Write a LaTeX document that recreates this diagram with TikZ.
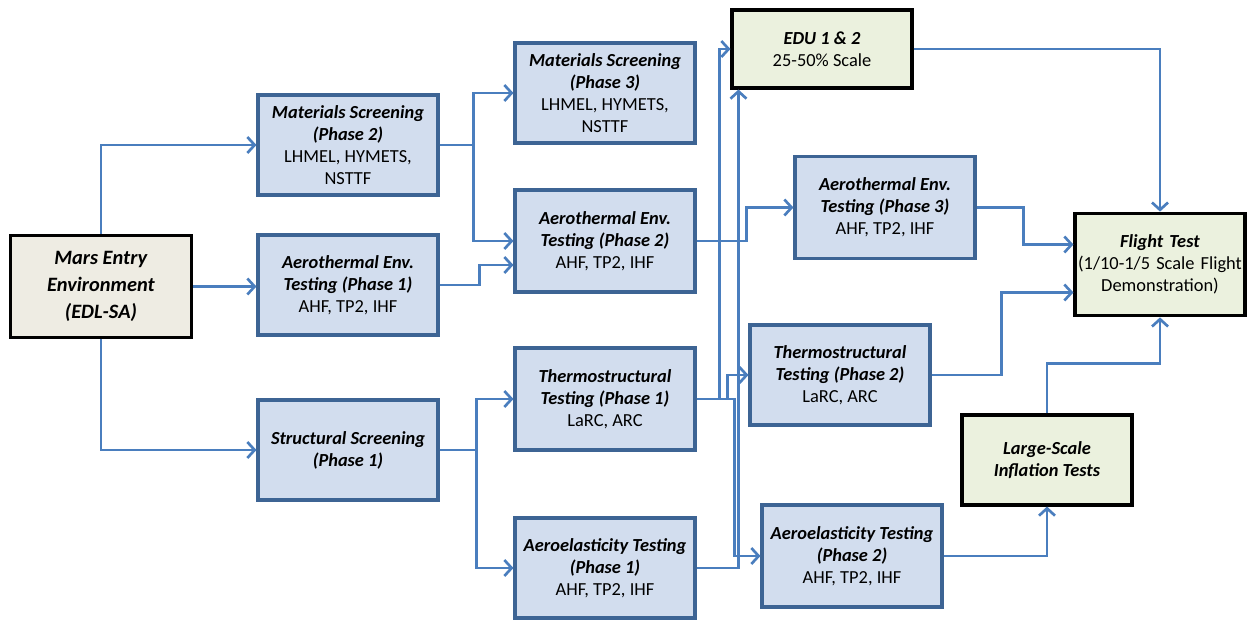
\documentclass[tikz,border=0pt]{standalone}
\usepackage{fontspec}
\setmainfont{Carlito}
\usetikzlibrary{arrows.meta,calc}
\definecolor{boxblue}{HTML}{D2DDEE}
\definecolor{borderblue}{HTML}{3D6494}
\definecolor{linkblue}{HTML}{4A7EBE}
\definecolor{tan}{HTML}{EEECE3}
\definecolor{paleg}{HTML}{EBF1DE}
\begin{document}
\begin{tikzpicture}[x=0.75pt,y=-0.75pt,
  bluebox/.style={draw=borderblue,line width=2.3pt,fill=boxblue,minimum width=135pt,minimum height=75pt,align=center,font=\fontsize{13.8}{16.5}\selectfont,inner sep=1pt},
  greenbox/.style={draw=black,line width=2.3pt,fill=paleg,align=center,font=\fontsize{13.8}{16.5}\selectfont,inner sep=1pt},
  conn/.style={draw=linkblue,line width=2pt,-{Straight Barb[length=5.5pt,width=12pt]}}]
\useasboundingbox (0,0) rectangle (1252,622);
\node[draw=black,line width=2.3pt,fill=tan,minimum width=136pt,minimum height=77pt,align=center,font=\fontsize{15.3}{20.5}\selectfont] (mars) at (101,286.5) {\textbf{\textit{Mars Entry}}\\\textbf{\textit{Environment}}\\\textbf{\textit{(EDL-SA)}}};
\node[bluebox] (ms2) at (348,145) {\textbf{\textit{Materials Screening}}\\\textbf{\textit{(Phase 2)}}\\LHMEL, HYMETS,\\NSTTF};
\node[bluebox] (ae1) at (348,285) {\textbf{\textit{Aerothermal Env.}}\\\textbf{\textit{Testing (Phase 1)}}\\AHF, TP2, IHF};
\node[bluebox] (ss1) at (348,450) {\textbf{\textit{Structural Screening}}\\\textbf{\textit{(Phase 1)}}};
\node[bluebox] (ms3) at (605,93) {\textbf{\textit{Materials Screening}}\\\textbf{\textit{(Phase 3)}}\\LHMEL, HYMETS,\\NSTTF};
\node[bluebox,minimum height=76.5pt] (ae2) at (605,241) {\textbf{\textit{Aerothermal Env.}}\\\textbf{\textit{Testing (Phase 2)}}\\AHF, TP2, IHF};
\node[bluebox,minimum height=76.5pt] (th1) at (605,399) {\textbf{\textit{Thermostructural}}\\\textbf{\textit{Testing (Phase 1)}}\\LaRC, ARC};
\node[bluebox] (el1) at (605,568) {\textbf{\textit{Aeroelasticity Testing}}\\\textbf{\textit{(Phase 1)}}\\AHF, TP2, IHF};
\node[greenbox,minimum width=135pt,minimum height=58.5pt] (edu) at (822,49) {\textbf{\textit{EDU 1 \& 2}}\\25-50\% Scale};
\node[bluebox,minimum height=76pt] (ae3) at (885,207.5) {\textbf{\textit{Aerothermal Env.}}\\\textbf{\textit{Testing (Phase 3)}}\\AHF, TP2, IHF};
\node[bluebox] (th2) at (840,375) {\textbf{\textit{Thermostructural}}\\\textbf{\textit{Testing (Phase 2)}}\\LaRC, ARC};
\node[bluebox,minimum height=76.5pt] (el2) at (852,556) {\textbf{\textit{Aeroelasticity Testing}}\\\textbf{\textit{(Phase 2)}}\\AHF, TP2, IHF};
\node[greenbox,minimum width=127.5pt,minimum height=67.5pt] (ls) at (1047,460) {\textbf{\textit{Large-Scale}}\\\textbf{\textit{Inflation Tests}}};
\node[greenbox,minimum width=127.5pt,minimum height=77pt,text width=124pt] (ft) at (1160,264.5) {\textbf{\textit{Flight Test}}\\(1/10-1/5 Scale Flight\\Demonstration)};
% connectors
\draw[conn] (mars.north) |- (ms2.west);
\draw[conn] (mars.east) -- (mars.east -| ae1.west);
\draw[conn] (mars.south) |- (ss1.west);
\draw[conn] (ms2.east) -- ++(34,0) |- (ms3.west);
\draw[conn] (ms2.east) -- ++(34,0) |- (ae2.west);
\draw[conn] (ae1.east) -- ++(40,0) |- ($(ae2.west)+(0,24)$);
\draw[conn] (ss1.east) -- ++(37,0) |- (th1.west);
\draw[conn] (ss1.east) -- ++(37,0) |- (el1.west);
\draw[conn] (ae2.east) -- ++(50,0) |- (ae3.west);
\draw[conn] (th1.east) -- ++(23,0) |- (edu.west);
\draw[conn] (th1.east) -- ++(31,0) |- (th2.west);
\draw[conn] (th1.east) -- ++(38,0) |- (el2.west);
\draw[conn] (el1.east) -| ($(edu.south west)+(8,0)$);
\draw[conn] (edu.east) -| (ft.north);
\draw[conn] (ae3.east) -- ++(47,0) |- ($(ft.west)+(0,-20)$);
\draw[conn] (th2.east) -- ++(70,0) |- ($(ft.west)+(0,28)$);
\draw[conn] (el2.east) -| (ls.south);
\draw[conn] (ls.north) -- ++(0,-50) -| (ft.south);
\end{tikzpicture}
\end{document}
